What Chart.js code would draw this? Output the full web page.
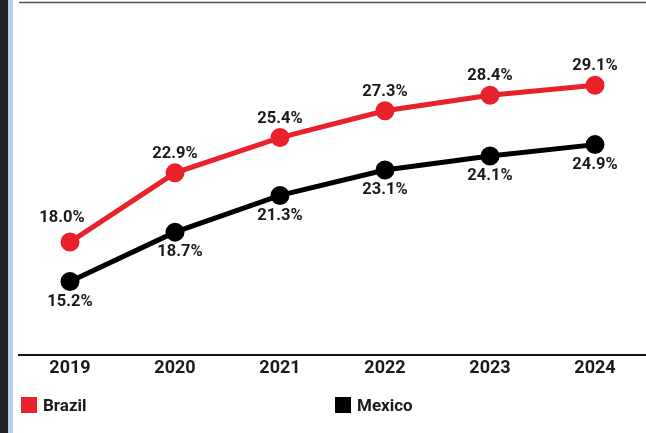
<!DOCTYPE html>
<html>
<head>
<meta charset="utf-8">
<script src="https://cdn.jsdelivr.net/npm/chart.js@4.4.1/dist/chart.umd.min.js"></script>
<style>
  html, body { margin: 0; padding: 0; overflow: hidden; background: #fff; }
  #wrap { position: relative; width: 646px; height: 433px; overflow: hidden; background: #fff; }
  #darkstrip { position: absolute; left: 0; top: 0; width: 8px; height: 433px; background: #1f2327; }
  #bluestrip { position: absolute; left: 8px; top: 0; width: 5px; height: 433px; background: #b9cdee; }
  #c { position: absolute; left: 0; top: 0; }
  .leg { position: absolute; top: 395px; font-family: Roboto, "Open Sans", sans-serif; font-weight: 700; font-size: 17px; color: #1a1a1a; display: flex; align-items: center; height: 20px; }
  .sw { width: 16px; height: 16px; margin-right: 6px; }
</style>
</head>
<body>
<div id="wrap">
  <canvas id="c" width="660" height="433" style="width:660px;height:433px"></canvas>
  <div id="darkstrip"></div>
  <div id="bluestrip"></div>
  <div class="leg" style="left:21px"><span class="sw" style="background:#e8212b"></span>Brazil</div>
  <div class="leg" style="left:335px"><span class="sw" style="background:#000"></span>Mexico</div>
</div>
<script>
const years = ["2019", "2020", "2021", "2022", "2023", "2024"];
const brazil = [18.0, 22.9, 25.4, 27.3, 28.4, 29.1];
const mexico = [15.2, 18.7, 21.3, 23.1, 24.1, 24.9];

const RED = "#e8212b";
const BLACK = "#000000";
const FONT = "Roboto, 'Open Sans', sans-serif";

const labelPlugin = {
  id: "valueLabels",
  afterDatasetsDraw(chart) {
    const ctx = chart.ctx;
    ctx.save();
    ctx.font = "700 16.5px " + FONT;
    ctx.fillStyle = "#1a1a1a";
    ctx.textAlign = "center";
    ctx.textBaseline = "middle";
    chart.data.datasets.forEach((ds, di) => {
      const meta = chart.getDatasetMeta(di);
      meta.data.forEach((pt, i) => {
        let dx = 0, dy = di === 0 ? -19 : 20;
        if (di === 0 && i === 0) { dx = -8; dy = -24; }
        if (di === 1 && i === 1) { dx = 5; }
        ctx.fillText(ds.data[i].toFixed(1) + "%", pt.x + dx, pt.y + dy);
      });
    });
    ctx.restore();
  }
};

const framePlugin = {
  id: "frame",
  beforeDraw(chart) {
    const ctx = chart.ctx;
    const a = chart.chartArea;
    ctx.save();
    ctx.strokeStyle = "#555";
    ctx.lineWidth = 1.5;
    ctx.beginPath();
    ctx.moveTo(19, 2.5);
    ctx.lineTo(chart.width, 2.5);
    ctx.stroke();
    ctx.strokeStyle = "#111";
    ctx.lineWidth = 2;
    ctx.beginPath();
    ctx.moveTo(18, a.bottom);
    ctx.lineTo(chart.width, a.bottom);
    ctx.stroke();
    ctx.restore();
  }
};

new Chart(document.getElementById("c"), {
  type: "line",
  data: {
    labels: years,
    datasets: [
      { label: "Brazil", data: brazil, borderColor: RED, backgroundColor: RED, borderWidth: 5, pointRadius: 7, pointHoverRadius: 7, tension: 0 },
      { label: "Mexico", data: mexico, borderColor: BLACK, backgroundColor: BLACK, borderWidth: 5, pointRadius: 7, pointHoverRadius: 7, tension: 0 }
    ]
  },
  options: {
    responsive: false,
    animation: false,
    events: [],
    layout: { autoPadding: false, padding: { left: 17.5, right: 12.5, top: 2, bottom: 48 } },
    plugins: { legend: { display: false }, tooltip: { enabled: false } },
    scales: {
      x: {
        offset: true,
        grid: { display: false, drawTicks: false },
        border: { display: false },
        ticks: { color: "#1a1a1a", font: { family: FONT, size: 18, weight: "700" }, padding: 3 },
        afterFit(scale) { scale.height = 30; }
      },
      y: { display: false, min: 10, max: 35 }
    }
  },
  plugins: [framePlugin, labelPlugin]
});
</script>
</body>
</html>
